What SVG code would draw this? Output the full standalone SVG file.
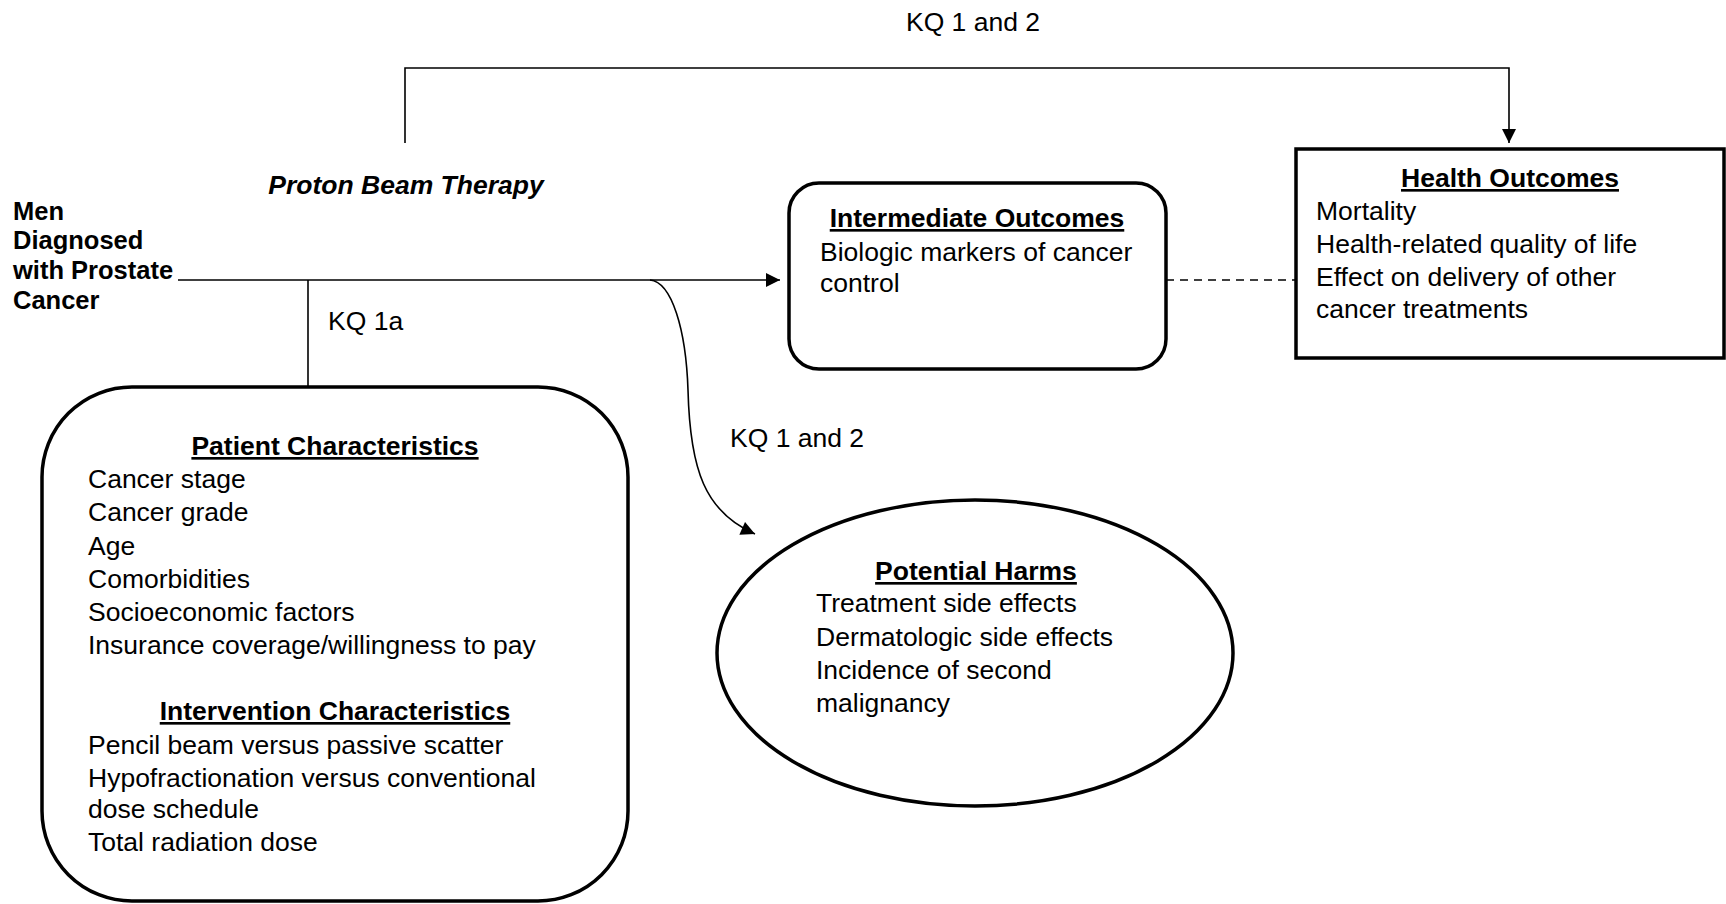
<svg xmlns="http://www.w3.org/2000/svg" width="1726" height="904" viewBox="0 0 1726 904">
<style>
text{font-family:"Liberation Sans",Arial,sans-serif;font-size:26.5px;fill:#000}
.b{font-weight:bold;font-size:25.5px}
.t{font-weight:bold;text-decoration:underline;text-anchor:middle}
.box{fill:#fff;stroke:#000;stroke-width:3.5}
.ln{fill:none;stroke:#000;stroke-width:1.6}
</style>
<defs>
<marker id="ah" viewBox="0 0 10 10" refX="10" refY="5" markerWidth="15" markerHeight="14" markerUnits="userSpaceOnUse" orient="auto">
<path d="M0,0 L10,5 L0,10 z" fill="#000"/>
</marker>
</defs>
<rect width="1726" height="904" fill="#fff"/>
<g id="connectors">
<path class="ln" d="M405,143 V68 H1509 V143" marker-end="url(#ah)"/>
<path class="ln" d="M178,280 H780" marker-end="url(#ah)"/>
<path class="ln" d="M308,280 V387"/>
<path class="ln" d="M650,280 C672,282 686,330 688,390 C690,470 705,512 755,534" marker-end="url(#ah)"/>
<path class="ln" d="M1166,280 H1296" stroke-dasharray="8,6"/>
<text x="973" y="31" text-anchor="middle">KQ 1 and 2</text>
<text x="328" y="330">KQ 1a</text>
<text x="730" y="447">KQ 1 and 2</text>
</g>
<g id="population">
<text class="b" x="13" y="220">Men</text>
<text class="b" x="13" y="249">Diagnosed</text>
<text class="b" x="13" y="279">with Prostate</text>
<text class="b" x="13" y="309">Cancer</text>
</g>
<g id="intervention">
<text x="406" y="194" text-anchor="middle" font-weight="bold" font-style="italic">Proton Beam Therapy</text>
</g>
<g id="intermediate">
<rect class="box" x="789" y="183" width="377" height="186" rx="30" ry="30"/>
<text class="t" x="977" y="227">Intermediate Outcomes</text>
<text x="820" y="261">Biologic markers of cancer</text>
<text x="820" y="292">control</text>
</g>
<g id="health">
<rect class="box" x="1296" y="149" width="428" height="209"/>
<text class="t" x="1510" y="187">Health Outcomes</text>
<text x="1316" y="220">Mortality</text>
<text x="1316" y="253">Health-related quality of life</text>
<text x="1316" y="286">Effect on delivery of other</text>
<text x="1316" y="318">cancer treatments</text>
</g>
<g id="characteristics">
<rect class="box" x="42" y="387" width="586" height="514" rx="90" ry="90"/>
<text class="t" x="335" y="455">Patient Characteristics</text>
<text x="88" y="488">Cancer stage</text>
<text x="88" y="521">Cancer grade</text>
<text x="88" y="555">Age</text>
<text x="88" y="588">Comorbidities</text>
<text x="88" y="621">Socioeconomic factors</text>
<text x="88" y="654">Insurance coverage/willingness to pay</text>
<text class="t" x="335" y="720">Intervention Characteristics</text>
<text x="88" y="754">Pencil beam versus passive scatter</text>
<text x="88" y="787">Hypofractionation versus conventional</text>
<text x="88" y="818">dose schedule</text>
<text x="88" y="851">Total radiation dose</text>
</g>
<g id="harms">
<ellipse class="box" cx="975" cy="653" rx="258" ry="153"/>
<text class="t" x="976" y="580">Potential Harms</text>
<text x="816" y="612">Treatment side effects</text>
<text x="816" y="646">Dermatologic side effects</text>
<text x="816" y="679">Incidence of second</text>
<text x="816" y="712">malignancy</text>
</g>
</svg>
